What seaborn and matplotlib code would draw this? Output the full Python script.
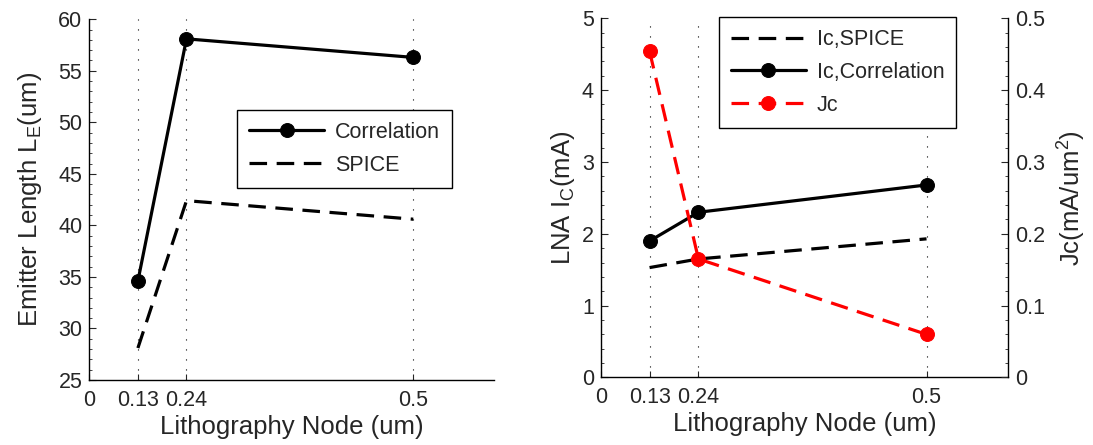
import matplotlib
matplotlib.use("Agg")
import matplotlib.pyplot as plt
import seaborn as sns
from matplotlib.ticker import FixedLocator, MultipleLocator, FuncFormatter

# ---- data -------------------------------------------------------------
node_tick_labels = ["0", "0.13", "0.24", "0.5"]
node_tick_pos = [0.0, 0.075, 0.15, 0.5]      # axis coordinate of each tick in the original figure
node_pos = [0.075, 0.15, 0.5]               # lithography nodes 0.13, 0.24, 0.5 um

le_correlation = [34.6, 58.1, 56.3]
le_spice = [28.1, 42.4, 40.6]

ic_spice = [1.53, 1.65, 1.93]
ic_correlation = [1.90, 2.30, 2.68]
jc = [0.454, 0.165, 0.060]

# ---- style -------------------------------------------------------------
sns.set_style("white")
plt.rcParams['font.family'] = ['Liberation Sans', 'DejaVu Sans']
plt.rcParams['mathtext.fontset'] = 'custom'
plt.rcParams['mathtext.rm'] = 'Liberation Sans'
plt.rcParams['mathtext.it'] = 'Liberation Sans:italic'
plt.rcParams['axes.edgecolor'] = 'black'
plt.rcParams['axes.linewidth'] = 1.0

TICK_FS = 15.5
LABEL_FS = 18.5
LW = 2.3
MS = 10
DASH = (0, (5.5, 3.0))

fig = plt.figure(figsize=(10.93, 4.45), dpi=100)
ax1 = fig.add_axes([0.0817, 0.1461, 0.3705, 0.8106])
ax2 = fig.add_axes([0.5496, 0.1517, 0.3726, 0.8072])


def style_x(ax):
    ax.set_xlim(0, 0.625)
    ax.xaxis.set_major_locator(FixedLocator(node_tick_pos))
    ax.set_xticklabels(node_tick_labels)
    ax.xaxis.grid(True, linestyle=(0, (1, 8)), color='black', linewidth=0.8)
    ax.yaxis.grid(False)
    ax.set_axisbelow(True)
    ax.set_xlabel("Lithography Node (um)", fontsize=LABEL_FS, labelpad=3)
    ax.tick_params(axis='x', direction='in', length=4, width=0.8, labelsize=TICK_FS,
                   pad=7, bottom=True, top=False)


LEG_KW = dict(fontsize=TICK_FS, frameon=True, fancybox=False, edgecolor='black',
              framealpha=1, handlelength=3.5, handletextpad=0.5, borderpad=0.55,
              labelspacing=0.55, borderaxespad=0)

# ---- left panel -------------------------------------------------------
sns.lineplot(x=node_pos, y=le_correlation, ax=ax1, color='black', linewidth=LW,
             marker='o', markersize=MS, markeredgecolor='black', markerfacecolor='black',
             label='Correlation')
sns.lineplot(x=node_pos, y=le_spice, ax=ax1, color='black', linewidth=LW,
             linestyle=DASH, label='SPICE')
style_x(ax1)
ax1.set_ylim(25, 60)
ax1.yaxis.set_major_locator(MultipleLocator(5))
ax1.yaxis.set_minor_locator(MultipleLocator(1))
ax1.tick_params(axis='y', which='major', direction='in', length=5, width=0.8,
                labelsize=TICK_FS, pad=5, left=True, right=False)
ax1.tick_params(axis='y', which='minor', direction='in', length=2.5, width=0.6,
                left=True, right=False)
ax1.spines['top'].set_visible(False)
ax1.spines['right'].set_visible(False)
ax1.set_ylabel("Emitter Length L$_\\mathregular{E}$(um)", fontsize=LABEL_FS, labelpad=10)
leg1 = ax1.legend(loc='upper left', bbox_to_anchor=(0.365, 0.748), **LEG_KW)
leg1.get_frame().set_linewidth(1.0)

# ---- right panel ------------------------------------------------------
sns.lineplot(x=node_pos, y=ic_spice, ax=ax2, color='black', linewidth=LW,
             linestyle=DASH, label='Ic,SPICE')
sns.lineplot(x=node_pos, y=ic_correlation, ax=ax2, color='black', linewidth=LW,
             marker='o', markersize=MS, markeredgecolor='black', markerfacecolor='black',
             label='Ic,Correlation')
style_x(ax2)
ax2.set_ylim(0, 5)
ax2.yaxis.set_major_locator(MultipleLocator(1))
ax2.yaxis.set_minor_locator(MultipleLocator(0.2))
ax2.tick_params(axis='y', which='major', direction='in', length=5, width=0.8,
                labelsize=TICK_FS, pad=5, left=True, right=False)
ax2.tick_params(axis='y', which='minor', direction='in', length=2.5, width=0.6,
                left=True, right=False)
ax2.spines['top'].set_visible(False)
ax2.spines['right'].set_visible(False)
ax2.set_ylabel("LNA I$_\\mathregular{C}$(mA)", fontsize=LABEL_FS, labelpad=3)

tw = ax2.twinx()
sns.lineplot(x=node_pos, y=jc, ax=tw, color='red', linewidth=LW, linestyle=DASH,
             marker='o', markersize=MS, markeredgecolor='red', markerfacecolor='red',
             label='Jc')
tw.set_ylim(0, 0.5)
tw.yaxis.set_major_locator(MultipleLocator(0.1))
tw.yaxis.set_minor_locator(MultipleLocator(0.02))
tw.yaxis.set_major_formatter(FuncFormatter(lambda v, p: f"{v:g}"))
tw.tick_params(axis='y', which='major', direction='in', length=5, width=0.8,
               labelsize=TICK_FS, pad=5, right=True, left=False)
tw.tick_params(axis='y', which='minor', direction='in', length=2.5, width=0.6,
               right=True, left=False)
tw.grid(False)
tw.spines['top'].set_visible(False)
tw.spines['left'].set_visible(False)
tw.spines['bottom'].set_visible(False)
tw.spines['right'].set_visible(True)
tw.set_ylabel("Jc(mA/um$^\\mathregular{2}$)", fontsize=LABEL_FS, labelpad=8)

if ax2.get_legend() is not None:
    ax2.get_legend().remove()
h1, l1 = ax2.get_legend_handles_labels()
h2, l2 = tw.get_legend_handles_labels()
leg2 = tw.legend(h1 + h2, l1 + l2, loc='upper left', bbox_to_anchor=(0.29, 1.003), **LEG_KW)
leg2.get_frame().set_linewidth(1.0)

fig.savefig("out.png", dpi=100)
